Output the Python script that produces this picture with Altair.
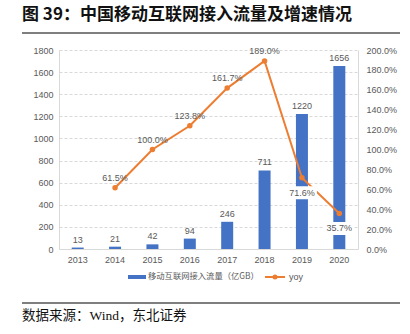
import altair as alt
import pandas as pd

years = ["2013", "2014", "2015", "2016", "2017", "2018", "2019", "2020"]
traffic = [13, 21, 42, 94, 246, 711, 1220, 1656]
yoy = [None, 61.5, 100.0, 123.8, 161.7, 189.0, 71.6, 35.7]
below_years = ["2019", "2020"]

title_text = "图  39：中国移动互联网接入流量及增速情况"
source_text = "数据来源：Wind，东北证券"
bar_name = "移动互联网接入流量（亿GB）"
line_name = "yoy"

BLUE = "#4472C4"
ORANGE = "#ED7D31"
GRAY = "#595959"
AXF = "Liberation Sans"
CJK = "Noto Sans CJK SC"
SERIF = "'Liberation Serif', 'Noto Sans CJK SC'"

df = pd.DataFrame({"year": years, "traffic": traffic, "yoy": yoy})

x = alt.X("year:N", sort=years, title=None,
          scale=alt.Scale(paddingInner=0.0, paddingOuter=0.0),
          axis=alt.Axis(labelAngle=0, ticks=False, labelPadding=6, labelFont=AXF,
                        labelFontSize=9, labelColor=GRAY, domainColor="#D9D9D9", grid=False))

base = alt.Chart(df)

yl = alt.Y("traffic:Q", title=None,
           scale=alt.Scale(domain=[0, 1800], nice=False),
           axis=alt.Axis(orient="left", values=list(range(0, 1801, 200)), ticks=False,
                         format="d",
                         labelPadding=6, labelFont=AXF, labelFontSize=9, labelColor=GRAY,
                         domainColor="#D9D9D9", grid=True, gridColor="#D9D9D9",
                         gridDash=[3, 2]))

bars = base.mark_bar(size=12, color=BLUE).encode(x=x, y=yl)
bar_labels = base.mark_text(dy=-8, font=AXF, fontSize=9, color=GRAY).encode(
    x=x, y=yl, text="traffic:Q")
left = alt.layer(bars, bar_labels)

yr = alt.Y("yoy:Q", title=None,
           scale=alt.Scale(domain=[0, 200], nice=False),
           axis=alt.Axis(orient="right", values=list(range(0, 201, 20)), ticks=False,
                         labelPadding=8, labelFont=AXF, labelFontSize=9, labelColor=GRAY,
                         labelExpr="format(datum.value, '.1f') + '%'",
                         domainColor="#D9D9D9", grid=False))

lbase = base.transform_filter("isValid(datum.yoy)").transform_calculate(
    lab="format(datum.yoy, '.1f') + '%'",
    below="indexof(%s, datum.year) >= 0" % str(below_years))

line = lbase.mark_line(color=ORANGE, strokeWidth=2).encode(x=x, y=yr)
pts = lbase.mark_point(filled=True, size=30, color=ORANGE, opacity=1).encode(x=x, y=yr)
above_lab = lbase.transform_filter("!datum.below").mark_text(
    dy=-10, font=AXF, fontSize=9, color=GRAY).encode(x=x, y=yr, text="lab:N")
below_bg = lbase.transform_filter("datum.below").mark_tick(
    orient="horizontal", size=30, thickness=13, yOffset=15, color="white", opacity=1).encode(
    x=x, y=yr)
below_lab = lbase.transform_filter("datum.below").mark_text(
    dy=15, font=AXF, fontSize=9, color=GRAY).encode(x=x, y=yr, text="lab:N")
right = alt.layer(line, below_bg, pts, above_lab, below_lab)

one = pd.DataFrame({"t": [0]})
title = alt.Chart(pd.DataFrame({"t": [title_text]})).mark_text(
    align="left", baseline="alphabetic", font=CJK, fontSize=17, fontWeight="bold",
    color="#111111").encode(x=alt.value(-37), y=alt.value(-30), text="t:N")
rule_top = alt.Chart(one).mark_rule(color="#555555", strokeWidth=1.3).encode(
    x=alt.value(-37), x2=alt.value(341), y=alt.value(-17))
rule_bot = alt.Chart(one).mark_rule(color="#555555", strokeWidth=1.3).encode(
    x=alt.value(-37), x2=alt.value(341), y=alt.value(253))
source = alt.Chart(pd.DataFrame({"t": [source_text]})).mark_text(
    align="left", baseline="middle", font=SERIF, fontSize=13.5, color="#111111").encode(
    x=alt.value(-37), y=alt.value(266), text="t:N")

leg_rect = alt.Chart(one).mark_rect(color=BLUE).encode(
    x=alt.value(69), x2=alt.value(87), y=alt.value(225), y2=alt.value(229))
leg_text1 = alt.Chart(pd.DataFrame({"t": [bar_name]})).mark_text(
    align="left", baseline="middle", font=CJK, fontSize=8.3, color=GRAY).encode(
    x=alt.value(89), y=alt.value(227), text="t:N")
leg_line = alt.Chart(one).mark_rule(color=ORANGE, strokeWidth=2).encode(
    x=alt.value(206), x2=alt.value(226), y=alt.value(227))
leg_dot = alt.Chart(one).mark_point(filled=True, size=25, color=ORANGE, opacity=1).encode(
    x=alt.value(216), y=alt.value(227))
leg_text2 = alt.Chart(pd.DataFrame({"t": [line_name]})).mark_text(
    align="left", baseline="middle", font=AXF, fontSize=9, color=GRAY).encode(
    x=alt.value(230), y=alt.value(227), text="t:N")

main = alt.layer(left, right).resolve_scale(y="independent")

chart = alt.layer(main, title, rule_top, rule_bot, source,
                  leg_rect, leg_text1, leg_line, leg_dot, leg_text2).properties(
    width=299, height=199,
    autosize=alt.AutoSizeParams(type="none"),
    padding={"left": 59, "top": 50, "right": 52, "bottom": 85},
    background="white",
).configure_view(stroke=None)

chart.save("out.html", embed_options={"renderer": "svg", "actions": False})
